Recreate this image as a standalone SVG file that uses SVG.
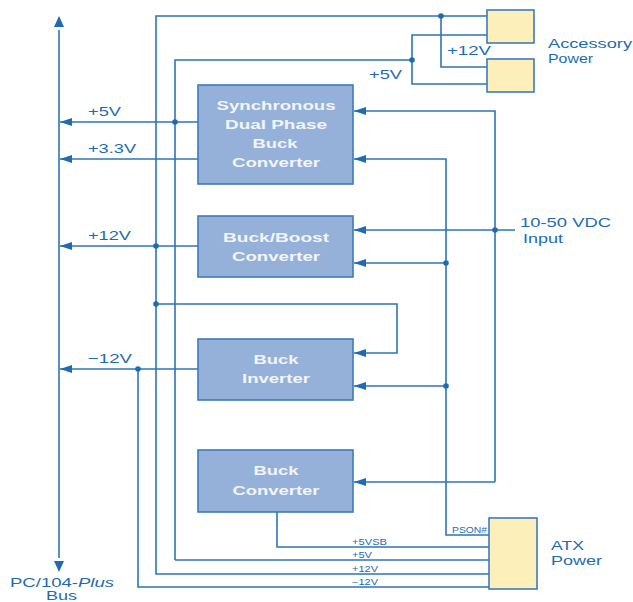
<svg xmlns="http://www.w3.org/2000/svg" width="633" height="602" viewBox="0 0 633 602">
<defs>
<style>
.w{fill:none;stroke:#2f74b8;stroke-width:1.6}
.lbl{font-family:"Liberation Sans",Arial,sans-serif;fill:#1e6bb3;font-size:13.5px}
.sm{font-family:"Liberation Sans",Arial,sans-serif;fill:#1e6bb3;font-size:8.5px}
.blk{fill:#95b1da;stroke:#3c7bbd;stroke-width:1.6}
.yel{fill:#fdefb9;stroke:#3c7bbd;stroke-width:1.6}
.bt{font-family:"Liberation Sans",Arial,sans-serif;font-weight:bold;fill:#f2f5fb;font-size:13.5px;text-anchor:middle}
.dot{fill:#1e6bb3}
</style>
<marker id="ah" viewBox="0 0 12 8" refX="12" refY="4" markerWidth="12" markerHeight="8" markerUnits="userSpaceOnUse" orient="auto">
<path d="M0,0 L12,4 L0,8 Z" fill="#1e6bb3"/>
</marker>
</defs>
<g id="connectors">
<line class="w" x1="59" y1="30" x2="59" y2="558"/>
<path d="M59,16 L54,27 L64,27 Z" fill="#1e6bb3"/>
<path d="M59,572 L54,561 L64,561 Z" fill="#1e6bb3"/>
<line class="w" x1="198" y1="122" x2="60" y2="122" marker-end="url(#ah)"/>
<line class="w" x1="198" y1="159" x2="60" y2="159" marker-end="url(#ah)"/>
<line class="w" x1="198" y1="246" x2="60" y2="246" marker-end="url(#ah)"/>
<line class="w" x1="198" y1="369" x2="60" y2="369" marker-end="url(#ah)"/>
<polyline class="w" points="487,16 156,16 156,574 489,574"/>
<polyline class="w" points="441,16 441,67 487,67"/>
<polyline class="w" points="175,560 175,60 412,60"/>
<polyline class="w" points="487,35 412,35 412,84 487,84"/>
<polyline class="w" points="138,369 138,587 489,587"/>
<polyline class="w" points="277,512 277,547 489,547"/>
<line class="w" x1="175" y1="560" x2="489" y2="560"/>
<polyline class="w" points="495,482 495,111 354,111" marker-end="url(#ah)"/>
<line class="w" x1="495" y1="482" x2="354" y2="482" marker-end="url(#ah)"/>
<line class="w" x1="515" y1="230" x2="354" y2="230" marker-end="url(#ah)"/>
<polyline class="w" points="489,535 446,535 446,159 354,159" marker-end="url(#ah)"/>
<line class="w" x1="446" y1="263" x2="354" y2="263" marker-end="url(#ah)"/>
<line class="w" x1="446" y1="386" x2="354" y2="386" marker-end="url(#ah)"/>
<polyline class="w" points="156,304 397,304 397,353 354,353" marker-end="url(#ah)"/>
<circle class="dot" cx="441" cy="16" r="2.8"/>
<circle class="dot" cx="412" cy="60" r="2.8"/>
<circle class="dot" cx="175" cy="122" r="2.8"/>
<circle class="dot" cx="156" cy="246" r="2.8"/>
<circle class="dot" cx="156" cy="304" r="2.8"/>
<circle class="dot" cx="138" cy="369" r="2.8"/>
<circle class="dot" cx="495" cy="230" r="2.8"/>
<circle class="dot" cx="446" cy="263" r="2.8"/>
<circle class="dot" cx="446" cy="386" r="2.8"/>
</g>
<g id="labels">
<text class="lbl" x="88" y="116" textLength="33" lengthAdjust="spacingAndGlyphs">+5V</text>
<text class="lbl" x="88" y="153" textLength="48" lengthAdjust="spacingAndGlyphs">+3.3V</text>
<text class="lbl" x="88" y="240" textLength="43" lengthAdjust="spacingAndGlyphs">+12V</text>
<text class="lbl" x="88" y="363" textLength="44" lengthAdjust="spacingAndGlyphs">−12V</text>
<text class="lbl" x="369" y="79" textLength="33" lengthAdjust="spacingAndGlyphs">+5V</text>
<text class="lbl" x="447" y="55" textLength="44" lengthAdjust="spacingAndGlyphs">+12V</text>
<text class="lbl" x="520" y="227" textLength="91" lengthAdjust="spacingAndGlyphs">10-50 VDC</text>
<text class="lbl" x="523" y="243" textLength="40" lengthAdjust="spacingAndGlyphs">Input</text>
<text class="lbl" x="10" y="587" textLength="104" lengthAdjust="spacingAndGlyphs">PC/104-<tspan font-style="italic">Plus</tspan></text>
<text class="lbl" x="46" y="600" textLength="31" lengthAdjust="spacingAndGlyphs">Bus</text>
<text class="sm" x="352" y="545" textLength="35" lengthAdjust="spacingAndGlyphs">+5VSB</text>
<text class="sm" x="352" y="558" textLength="20" lengthAdjust="spacingAndGlyphs">+5V</text>
<text class="sm" x="352" y="572" textLength="26" lengthAdjust="spacingAndGlyphs">+12V</text>
<text class="sm" x="352" y="585" textLength="26" lengthAdjust="spacingAndGlyphs">−12V</text>
<text class="sm" x="452" y="533" textLength="35" lengthAdjust="spacingAndGlyphs">PSON#</text>
</g>
<g id="sync">
<rect class="blk" x="198" y="85" width="155" height="99"/>
<text class="bt" x="276" y="110" textLength="119" lengthAdjust="spacingAndGlyphs">Synchronous</text>
<text class="bt" x="276" y="129" textLength="102" lengthAdjust="spacingAndGlyphs">Dual Phase</text>
<text class="bt" x="275" y="148" textLength="45" lengthAdjust="spacingAndGlyphs">Buck</text>
<text class="bt" x="276" y="167" textLength="88" lengthAdjust="spacingAndGlyphs">Converter</text>
</g>
<g id="buckboost">
<rect class="blk" x="198" y="216" width="155" height="61"/>
<text class="bt" x="276" y="242" textLength="106" lengthAdjust="spacingAndGlyphs">Buck/Boost</text>
<text class="bt" x="276" y="261" textLength="88" lengthAdjust="spacingAndGlyphs">Converter</text>
</g>
<g id="inverter">
<rect class="blk" x="198" y="339" width="155" height="61"/>
<text class="bt" x="276" y="364" textLength="45" lengthAdjust="spacingAndGlyphs">Buck</text>
<text class="bt" x="276" y="383" textLength="68" lengthAdjust="spacingAndGlyphs">Inverter</text>
</g>
<g id="buck">
<rect class="blk" x="198" y="450" width="155" height="62"/>
<text class="bt" x="276" y="475" textLength="45" lengthAdjust="spacingAndGlyphs">Buck</text>
<text class="bt" x="276" y="495" textLength="87" lengthAdjust="spacingAndGlyphs">Converter</text>
</g>
<g id="accessory">
<rect class="yel" x="487" y="10" width="47" height="33"/>
<rect class="yel" x="487" y="59" width="47" height="33"/>
<text class="lbl" x="548" y="48" textLength="84" lengthAdjust="spacingAndGlyphs">Accessory</text>
<text class="lbl" x="548" y="63" textLength="45" lengthAdjust="spacingAndGlyphs">Power</text>
</g>
<g id="atx">
<rect class="yel" x="489" y="518" width="48" height="71"/>
<text class="lbl" x="551" y="550" textLength="33" lengthAdjust="spacingAndGlyphs">ATX</text>
<text class="lbl" x="551" y="565" textLength="51" lengthAdjust="spacingAndGlyphs">Power</text>
</g>
</svg>
